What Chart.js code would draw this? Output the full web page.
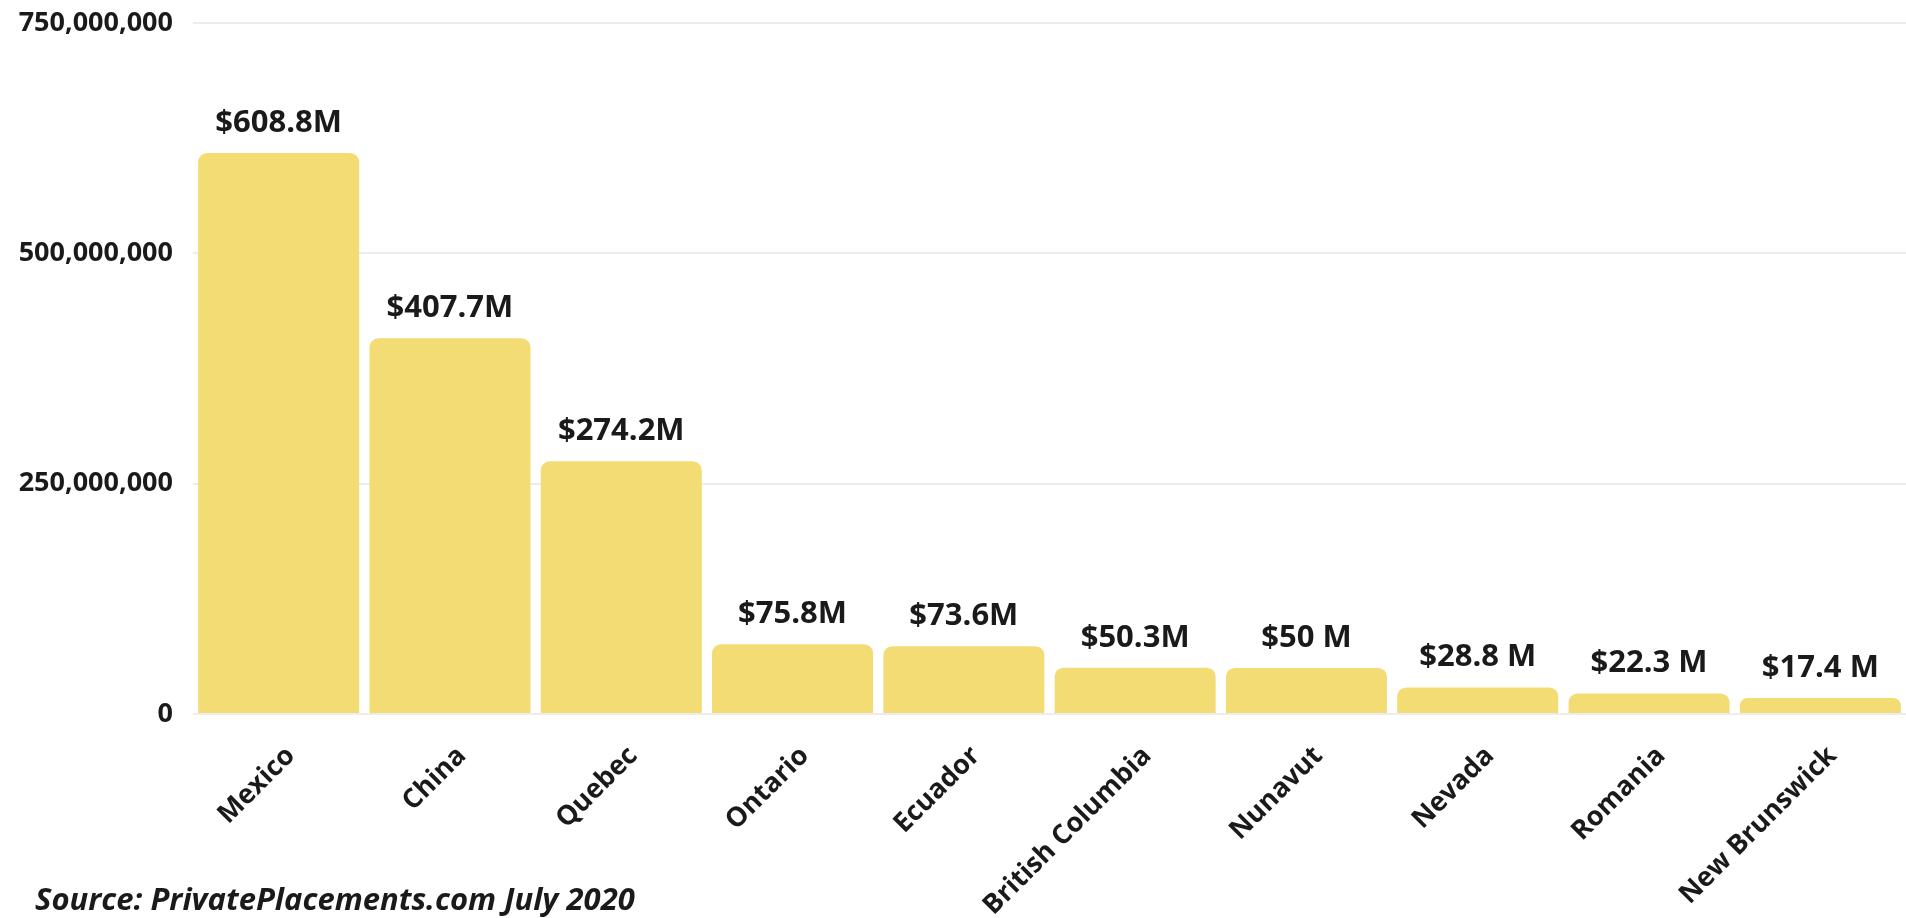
<!DOCTYPE html>
<html>
<head>
<meta charset="utf-8">
<script src="https://cdn.jsdelivr.net/npm/chart.js@4/dist/chart.umd.min.js"></script>
<style>
  html, body { margin: 0; padding: 0; background: #fff; }
  #wrap { position: relative; width: 1906px; height: 918px; overflow: hidden; }
  #source {
    position: absolute; left: 35px; top: 877px;
    font-family: "Open Sans", sans-serif; font-style: italic; font-weight: 700;
    font-size: 31px; color: #1a1a1a; white-space: nowrap;
  }
</style>
</head>
<body>
<div id="wrap">
  <canvas id="chart" width="1906" height="918"></canvas>
  <div id="source">Source: PrivatePlacements.com July 2020</div>
</div>
<script>
// regioni i vrijednosti (USD)
const kategorije = ["Mexico", "China", "Quebec", "Ontario", "Ecuador", "British Columbia", "Nunavut", "Nevada", "Romania", "New Brunswick"];
const vrijednosti = [608800000, 407700000, 274200000, 75800000, 73600000, 50300000, 50000000, 28800000, 22300000, 17400000];
const oznake = ["$608.8M", "$407.7M", "$274.2M", "$75.8M", "$73.6M", "$50.3M", "$50 M", "$28.8 M", "$22.3 M", "$17.4 M"];
const yTicks = [0, 250000000, 500000000, 750000000];

const oznakePlugin = {
    id: "oznake",
    afterDatasetsDraw(chart) {
        const ctx = chart.ctx;
        const meta = chart.getDatasetMeta(0);
        ctx.save();
        ctx.font = "700 31px 'Open Sans'";
        ctx.fillStyle = "#1a1a1a";
        ctx.textAlign = "center";
        ctx.textBaseline = "alphabetic";
        meta.data.forEach((bar, i) => {
            ctx.fillText(oznake[i], bar.x, bar.y - 21);
        });
        ctx.restore();
    }
};

new Chart(document.getElementById("chart").getContext("2d"), {
    type: "bar",
    data: {
        labels: kategorije,
        datasets: [{
            data: vrijednosti,
            backgroundColor: "#F4DC74",
            borderRadius: { topLeft: 9, topRight: 9 },
            borderSkipped: "bottom",
            barPercentage: 0.94,
            categoryPercentage: 1.0
        }]
    },
    options: {
        responsive: false,
        animation: false,
        layout: { padding: { top: 23, right: 0, left: 0, bottom: 0 } },
        plugins: {
            legend: { display: false },
            tooltip: { enabled: false }
        },
        scales: {
            x: {
                grid: { display: false },
                border: { display: false },
                ticks: {
                    color: "#1a1a1a",
                    font: { family: "'Open Sans'", weight: "700", size: 27 },
                    minRotation: 45,
                    maxRotation: 45,
                    padding: 18,
                    labelOffset: 12
                },
                afterFit: (scale) => { scale.height = 204; }
            },
            y: {
                min: 0,
                max: 750000000,
                afterBuildTicks: (scale) => { scale.ticks = yTicks.map(v => ({ value: v })); },
                grid: { color: "#ececec", lineWidth: 2, drawTicks: false },
                border: { display: false },
                ticks: {
                    color: "#1a1a1a",
                    font: { family: "'Open Sans'", weight: "700", size: 27 },
                    padding: 20,
                    callback: (v) => Number(v).toLocaleString("en-US")
                },
                afterFit: (scale) => {
                    scale.width = 193;
                    scale.paddingTop = 0;
                    scale.paddingBottom = 0;
                }
            }
        }
    },
    plugins: [oznakePlugin]
});
</script>
</body>
</html>
